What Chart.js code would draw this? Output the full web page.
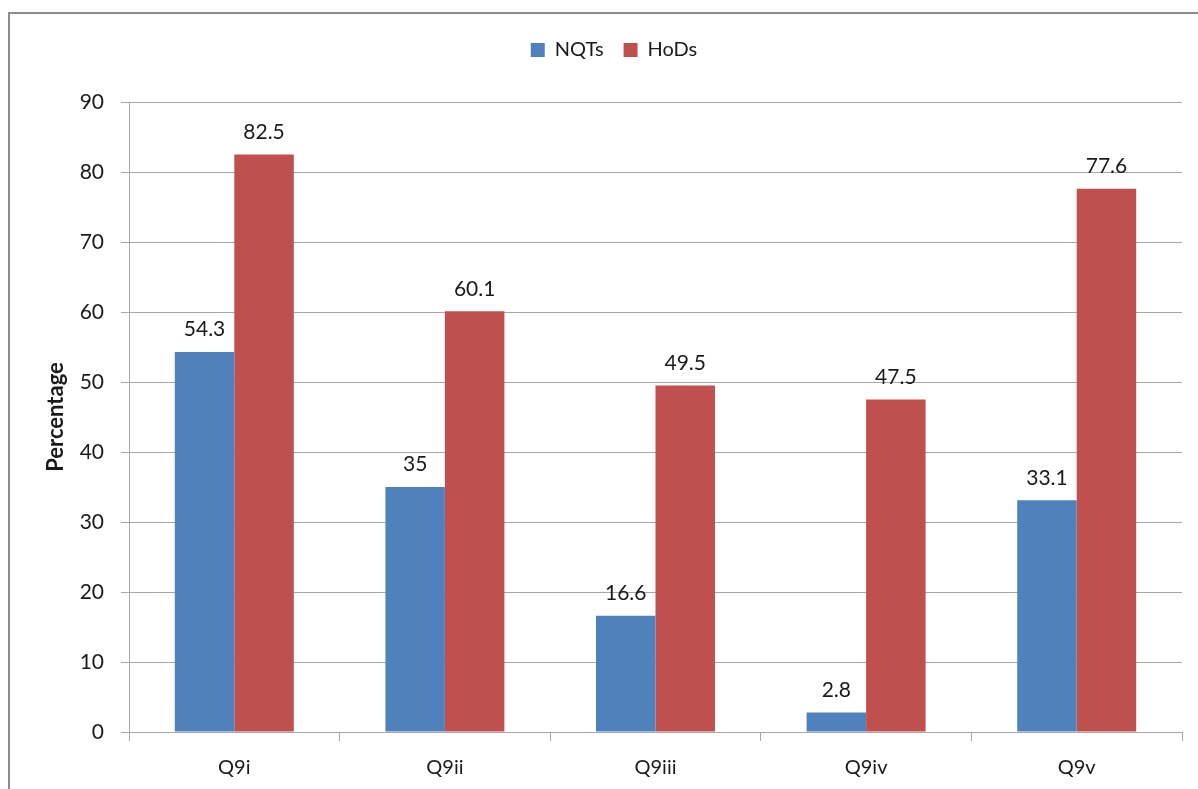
<!DOCTYPE html>
<html>
<head>
<meta charset="utf-8">
<script src="https://cdn.jsdelivr.net/npm/chart.js@4"></script>
<style>
  html, body { margin: 0; padding: 0; background: #fff; }
  #wrap { position: relative; width: 1198px; height: 789px; overflow: hidden; }
  #frame { position: absolute; left: 8px; top: 12px; width: 1300px; height: 900px;
           border-left: 2px solid #8c8c8c; border-top: 2px solid #8c8c8c; }
  canvas { position: absolute; left: 0; top: 0; }
</style>
</head>
<body>
<div id="wrap">
  <div id="frame"></div>
  <canvas id="myChart" width="1198" height="789"></canvas>
</div>
<script>
const categories = ["Q9i", "Q9ii", "Q9iii", "Q9iv", "Q9v"];
const nqts = [54.3, 35, 16.6, 2.8, 33.1];
const hods = [82.5, 60.1, 49.5, 47.5, 77.6];
const yTicks = [0, 10, 20, 30, 40, 50, 60, 70, 80, 90];

const font = "Lato, 'Open Sans', sans-serif";
const textColor = '#1a1a1a';
const gridColor = '#a6a6a6';

// value labels above each bar
const barLabels = {
    id: 'barLabels',
    afterDatasetsDraw(chart) {
        const ctx = chart.ctx;
        ctx.save();
        ctx.font = `21px ${font}`;
        ctx.fillStyle = textColor;
        ctx.textAlign = 'center';
        ctx.textBaseline = 'bottom';
        chart.data.datasets.forEach((ds, i) => {
            chart.getDatasetMeta(i).data.forEach((bar, j) => {
                ctx.fillText(String(ds.data[j]), bar.x, bar.y - 12);
            });
        });
        ctx.restore();
    }
};

// extra room under the legend, and nudge it a bit right like the original
const legendSpace = {
    id: 'legendSpace',
    beforeLayout(chart) {
        const lg = chart.legend;
        if (lg && !lg._patched) {
            const fit = lg.fit;
            lg.fit = function () { fit.call(this); this.height += 32; };
            lg._patched = true;
        }
    },
    afterLayout(chart) {
        if (chart.legend) { chart.legend.left += 23; chart.legend.right += 23; }
    }
};

new Chart(document.getElementById('myChart'), {
    type: 'bar',
    data: {
        labels: categories,
        datasets: [{
            label: 'NQTs',
            data: nqts,
            backgroundColor: '#4f81bd'
        }, {
            label: 'HoDs',
            data: hods,
            backgroundColor: '#c0504d'
        }]
    },
    options: {
        responsive: false,
        animation: false,
        datasets: { bar: { categoryPercentage: 0.565, barPercentage: 1.0 } },
        layout: { padding: { top: 20, right: 16, bottom: 0, left: 0 } },
        plugins: {
            legend: {
                position: 'top',
                labels: {
                    font: { family: font, size: 20 },
                    color: textColor,
                    boxWidth: 14,
                    boxHeight: 14,
                    padding: 20
                }
            },
            tooltip: { enabled: false }
        },
        scales: {
            x: {
                grid: { drawOnChartArea: false, offset: true, tickLength: 9, color: gridColor },
                border: { color: gridColor },
                ticks: { font: { family: font, size: 20 }, color: textColor, padding: 15 },
                afterFit: s => { s.height = 57; }
            },
            y: {
                min: 0,
                max: 90,
                afterBuildTicks: s => { s.ticks = yTicks.map(v => ({ value: v })); },
                grid: { color: gridColor, tickLength: 8 },
                border: { color: gridColor },
                ticks: { font: { family: font, size: 21 }, color: textColor, padding: 17 },
                title: {
                    display: true,
                    text: 'Percentage',
                    font: { family: font, size: 22, weight: 'bold' },
                    color: textColor,
                    padding: { top: 43, bottom: 0 }
                },
                afterFit: s => { s.width = 129; }
            }
        }
    },
    plugins: [barLabels, legendSpace]
});
</script>
</body>
</html>
